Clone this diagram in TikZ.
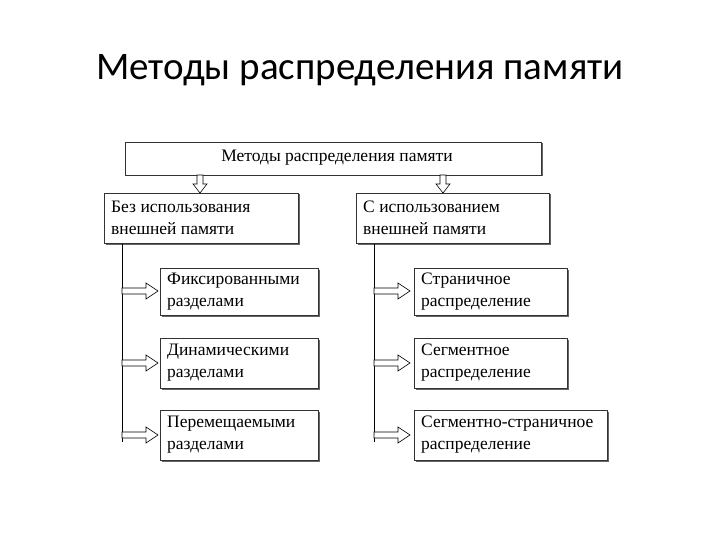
\documentclass[tikz,border=0pt]{standalone}
\usepackage{fontspec}
\setmainfont{Liberation Serif}
\newfontfamily\titlefont{Carlito}
\begin{document}
\begin{tikzpicture}[x=1pt,y=-1pt,
  box/.style={draw=black!80,line width=0.7pt,fill=white,anchor=north west,inner sep=0pt},
  harr/.pic={\draw[line width=0.6pt,fill=white] (0,-3)--(24,-3)--(24,-8)--(36,0)--(24,8)--(24,3)--(0,3)--cycle;},
  varr/.pic={\draw[line width=0.6pt,fill=white] (-3,0)--(-3,9)--(-7,9)--(0,18)--(7,9)--(3,9)--(3,0)--cycle;}]
\useasboundingbox (0,0) rectangle (720,540);
\node[font=\titlefont\fontsize{39}{44}\selectfont] (title) at (360,70) {Методы распределения памяти};
\newcommand\mybox[6]{%
 \fill[black!60] (#2+1.5,#3+1.5) rectangle (#4+1.5,#5+1.5);
 \node[box,minimum width=#4-#2,minimum height=#5-#3] (#1) at (#2,#3) {};
 \node[anchor=west,align=left,inner sep=0pt,font=\fontsize{17.5}{22}\selectfont] (#1t) at (#2+7,{(#3+#5)/2}) {#6};}
\mybox{top}{125}{142}{541}{175}{}
\node[font=\fontsize{17.5}{22}\selectfont] (topt) at (337,158) {Методы распределения памяти};
\mybox{L}{104}{193}{298}{243}{Без использования\\внешней памяти}
\mybox{R}{356}{193}{549}{243}{С использованием\\внешней памяти}
\mybox{L1}{160}{268}{318}{315}{Фиксированными\\разделами}
\mybox{L2}{160}{338}{318}{388}{Динамическими\\разделами}
\mybox{L3}{160}{410}{318}{460}{Перемещаемыми\\разделами}
\mybox{R1}{414}{268}{567}{315}{Страничное\\распределение}
\mybox{R2}{414}{338}{567}{388}{Сегментное\\распределение}
\mybox{R3}{414}{410}{607}{460}{Сегментно-страничное\\распределение}
\draw[line width=0.7pt] (L.south west) ++(18,0) coordinate (lv) -- ++(0,198);
\draw[line width=0.7pt] (R.south west) ++(18,0) coordinate (rv) -- ++(0,198);
\pic at (122,291) {harr}; \pic at (122,363) {harr}; \pic at (122,435) {harr};
\pic at (374,291) {harr}; \pic at (374,363) {harr}; \pic at (374,435) {harr};
\pic at (200,175) {varr}; \pic at (443,175) {varr};
\end{tikzpicture}
\end{document}
